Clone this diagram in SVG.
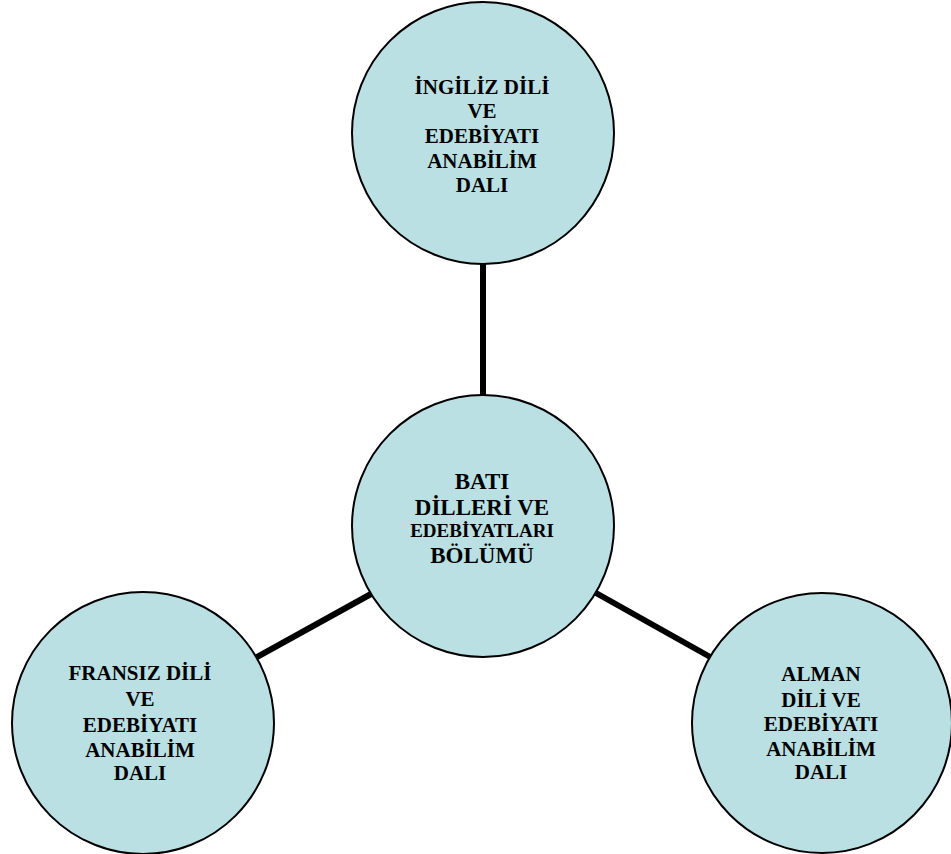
<svg xmlns="http://www.w3.org/2000/svg" width="951" height="854" viewBox="0 0 951 854">
<style>
.node{fill:#BBE0E3;stroke:#000;stroke-width:2}
.conn{stroke:#000;stroke-width:6;fill:none}
text{font-family:"Liberation Serif","Times New Roman",serif;font-weight:bold;font-size:21px;text-anchor:middle;fill:#000}
.big{font-size:23px}
.small{font-size:19px}
</style>
<rect width="951" height="854" fill="#fff"/>
<g id="connectors">
<line class="conn" x1="483" y1="264" x2="483" y2="396"/>
<line class="conn" x1="371" y1="594" x2="255" y2="658"/>
<line class="conn" x1="596" y1="593" x2="712" y2="658"/>
</g>
<g id="node-ingiliz">
<circle class="node" cx="483" cy="133" r="131"/>
<text x="482" y="94">İNGİLİZ DİLİ</text>
<text x="482" y="118">VE</text>
<text x="482" y="143">EDEBİYATI</text>
<text x="482" y="168">ANABİLİM</text>
<text x="482" y="192">DALI</text>
</g>
<g id="node-bati">
<circle class="node" cx="483" cy="526" r="131"/>
<text class="big" x="482" y="489">BATI</text>
<text class="big" x="482" y="515">DİLLERİ VE</text>
<text class="small" x="482" y="537">EDEBİYATLARI</text>
<text class="big" x="482" y="563">BÖLÜMÜ</text>
</g>
<g id="node-fransiz">
<circle class="node" cx="143" cy="723" r="131"/>
<text x="140" y="680">FRANSIZ DİLİ</text>
<text x="140" y="706">VE</text>
<text x="140" y="732">EDEBİYATI</text>
<text x="140" y="757">ANABİLİM</text>
<text x="140" y="780">DALI</text>
</g>
<g id="node-alman">
<circle class="node" cx="822" cy="723" r="130"/>
<text x="821" y="681">ALMAN</text>
<text x="821" y="707">DİLİ VE</text>
<text x="821" y="731">EDEBİYATI</text>
<text x="821" y="756">ANABİLİM</text>
<text x="821" y="779">DALI</text>
</g>
</svg>
